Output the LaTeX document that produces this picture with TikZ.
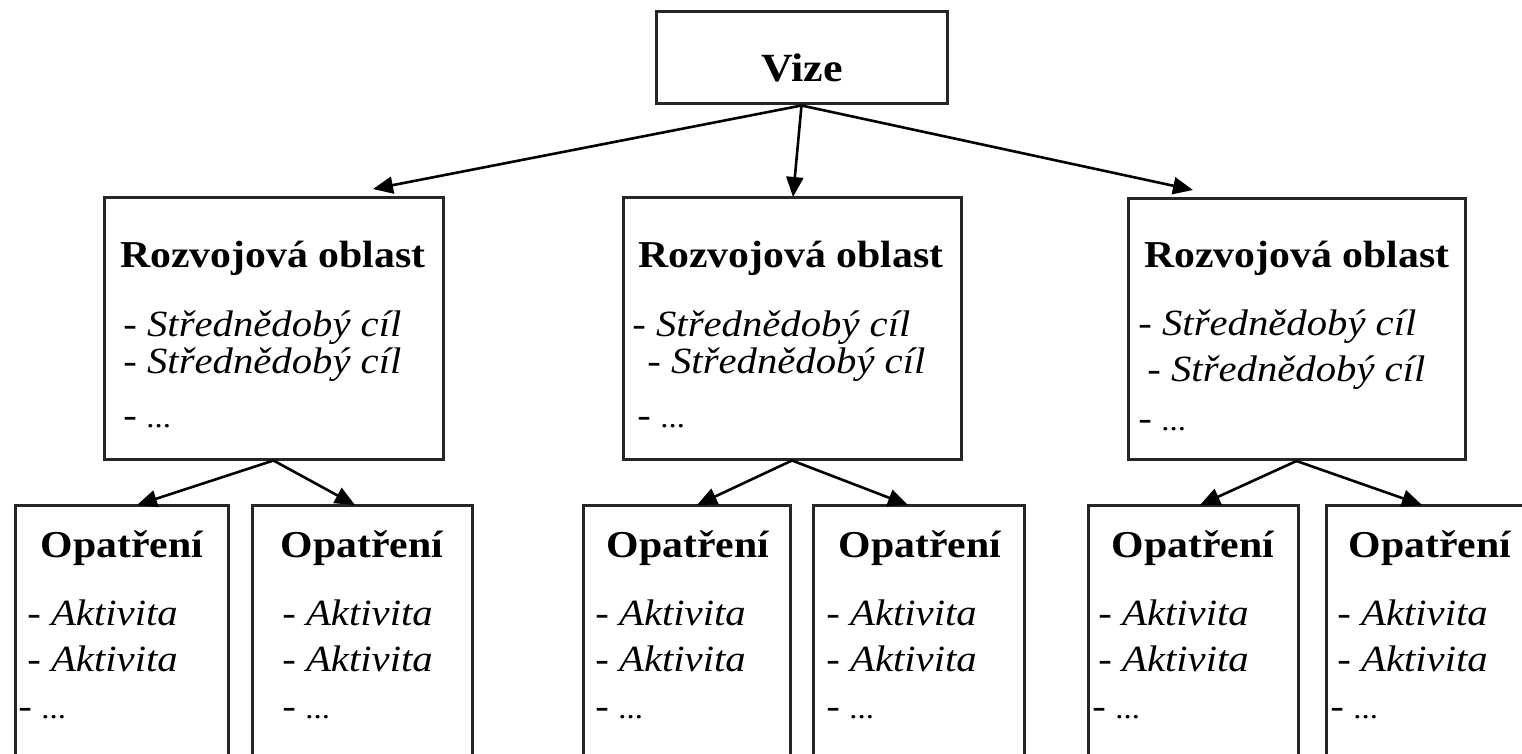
\documentclass[tikz,border=0pt]{standalone}
\usepackage{fontspec}
\setmainfont{Liberation Serif}[FakeStretch=1.1]
\usetikzlibrary{arrows.meta}
\newcommand{\mydots}{{\fontsize{15}{15}\selectfont\itshape ...}}
\begin{document}
\begin{tikzpicture}[x=0.5pt,y=-0.5pt,
  box/.style={draw=black!85,line width=1.5pt,rectangle,inner sep=0pt,fill=white},
  title/.style={inner sep=0pt,anchor=base,font=\fontsize{19}{22}\selectfont\bfseries},
  item/.style={inner sep=0pt,anchor=base west,font=\fontsize{18.5}{22}\selectfont},
  conn/.style={line width=1.3pt,-{Triangle[length=10pt,width=8.5pt]}}]
\useasboundingbox (0,0) rectangle (1522,754);
\clip (0,0) rectangle (1522,754);
% top
\node[box,minimum width=145.5pt,minimum height=46pt] (V) at (801.5,58) {};
\node[title,font=\fontsize{20}{22}\selectfont\bfseries] (Vt) at (802,82) {Vize};
% middle boxes
\node[box,minimum width=169.5pt,minimum height=130.5pt] (R1) at (273.5,328.5) {};
\node[box,minimum width=169pt,minimum height=130.5pt] (R2) at (792,328.5) {};
\node[box,minimum width=168.5pt,minimum height=130.5pt] (R3) at (1296.5,329) {};
% bottom boxes
\node[box,minimum width=106.5pt,minimum height=160pt] (O1) at (121.5,665) {};
\node[box,minimum width=110pt,minimum height=160pt] (O2) at (362,665) {};
\node[box,minimum width=103.5pt,minimum height=160pt] (O3) at (686.5,665) {};
\node[box,minimum width=105.5pt,minimum height=160pt] (O4) at (918.5,665) {};
\node[box,minimum width=105pt,minimum height=160pt] (O5) at (1193,665) {};
\node[box,minimum width=107pt,minimum height=160pt] (O6) at (1433,665) {};
% texts in middle boxes
\node[title] (R1t) at (273,268) {Rozvojová oblast};
\node[item] (R1a) at (123,337) {- \textit{Střednědobý cíl}};
\node[item] (R1b) at (123,373) {- \textit{Střednědobý cíl}};
\node[item] (R1c) at (123,428) {- \mydots};
\node[title] (R2t) at (791,268) {Rozvojová oblast};
\node[item] (R2a) at (632,337) {- \textit{Střednědobý cíl}};
\node[item] (R2b) at (647,373) {- \textit{Střednědobý cíl}};
\node[item] (R2c) at (637,428) {- \mydots};
\node[title] (R3t) at (1297,268) {Rozvojová oblast};
\node[item] (R3a) at (1138,336) {- \textit{Střednědobý cíl}};
\node[item] (R3b) at (1147,382) {- \textit{Střednědobý cíl}};
\node[item] (R3c) at (1138,430) {- \mydots};
% texts in bottom boxes
\foreach \n/\cx/\sx/\dx in {1/122/27/18, 2/362/282/282, 3/688/595/595, 4/920/826/826, 5/1193/1098/1092, 6/1430/1337/1330}{
  \node[title] (O\n t) at (\cx,557) {Opatření};
  \node[item] (O\n a) at (\sx,625) {- \textit{Aktivita}};
  \node[item] (O\n b) at (\sx,671) {- \textit{Aktivita}};
  \node[item] (O\n c) at (\dx,718) {- \mydots};
}
% arrow tips
\coordinate (tR1) at (373,189);
\coordinate (tR2) at (793,197);
\coordinate (tR3) at (1193,190);
\coordinate (tO1) at (137,505);
\coordinate (tO2) at (355,505);
\coordinate (tO3) at (697,505);
\coordinate (tO4) at (908,505);
\coordinate (tO5) at (1200,505);
\coordinate (tO6) at (1422,505);
\draw[conn] (V.south) -- (tR1);
\draw[conn] (V.south) -- (tR2);
\draw[conn] (V.south) -- (tR3);
\draw[conn] (R1.south) -- (tO1);
\draw[conn] (R1.south) -- (tO2);
\draw[conn] (R2.south) -- (tO3);
\draw[conn] (R2.south) -- (tO4);
\draw[conn] (R3.south) -- (tO5);
\draw[conn] (R3.south) -- (tO6);
\end{tikzpicture}
\end{document}
